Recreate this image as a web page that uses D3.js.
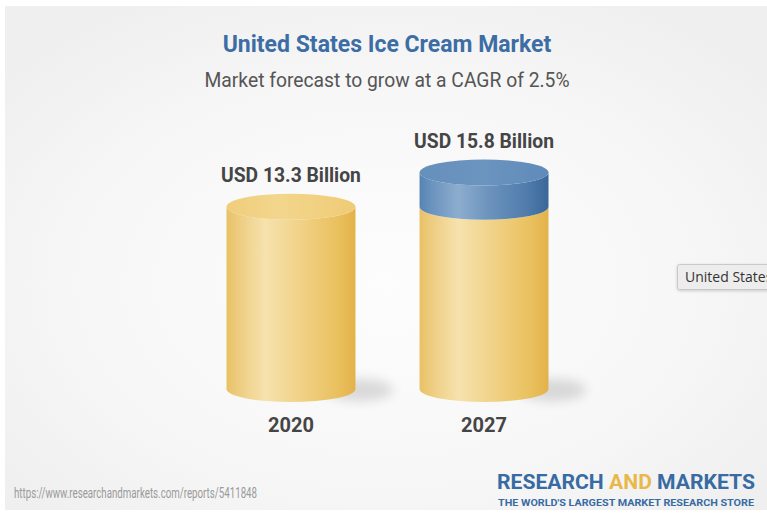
<!DOCTYPE html>
<html>
<head>
<meta charset="utf-8">
<script src="https://cdn.jsdelivr.net/npm/d3@7"></script>
<style>
  html, body { margin: 0; padding: 0; background: #fff; }
  svg { display: block; }
</style>
</head>
<body>
<svg id="chart" width="767" height="513"></svg>
<script>
// Market size by year, USD billion
const categories = ["2020", "2027"];
const values = [13.3, 15.8];
const valueLabels = ["USD 13.3 Billion", "USD 15.8 Billion"];

const titleText = "United States Ice Cream Market";
const subtitleText = "Market forecast to grow at a CAGR of 2.5%";
const sourceText = "https://www.researchandmarkets.com/reports/5411848";

const W = 767, H = 513;
const svg = d3.select("#chart");
const defs = svg.append("defs");
const FONT = "Roboto, 'Noto Sans', sans-serif";

// Panel background: light grey fading to near white in the middle
const bg = defs.append("radialGradient").attr("id", "bgGrad")
  .attr("cx", "50%").attr("cy", "55%").attr("r", "65%");
bg.append("stop").attr("offset", "0%").attr("stop-color", "#fdfdfd");
bg.append("stop").attr("offset", "60%").attr("stop-color", "#f7f7f7");
bg.append("stop").attr("offset", "100%").attr("stop-color", "#efefef");

svg.append("rect").attr("x", 5).attr("y", 6).attr("width", W - 5).attr("height", H - 9)
  .attr("fill", "url(#bgGrad)");

// Cylinder shading
function sideGradient(id, stops) {
  const g = defs.append("linearGradient").attr("id", id)
    .attr("x1", "0%").attr("x2", "100%").attr("y1", "0%").attr("y2", "0%");
  stops.forEach(([o, c]) => g.append("stop").attr("offset", o).attr("stop-color", c));
}
sideGradient("goldSide", [["0%", "#e8c165"], ["8%", "#edcb7d"], ["30%", "#f6e2ae"], ["55%", "#f1d38a"], ["85%", "#eac160"], ["100%", "#e3b24a"]]);
sideGradient("goldTop", [["0%", "#efcd7a"], ["40%", "#f3d68d"], ["100%", "#efcb76"]]);
sideGradient("blueSide", [["0%", "#5783b3"], ["8%", "#6891bd"], ["30%", "#8dadce"], ["55%", "#6a92bc"], ["85%", "#4e7aab"], ["100%", "#3a6698"]]);
sideGradient("blueTop", [["0%", "#6690bc"], ["50%", "#6b94bf"], ["100%", "#5f8aba"]]);

const blur = defs.append("filter").attr("id", "shadowBlur")
  .attr("x", "-50%").attr("y", "-100%").attr("width", "200%").attr("height", "300%");
blur.append("feGaussianBlur").attr("stdDeviation", 6);

const tipShadow = defs.append("filter").attr("id", "tipShadow")
  .attr("x", "-20%").attr("y", "-40%").attr("width", "140%").attr("height", "180%");
tipShadow.append("feDropShadow").attr("dx", 0).attr("dy", 1).attr("stdDeviation", 1.5)
  .attr("flood-color", "#000").attr("flood-opacity", 0.18);

// Scales
const x = d3.scaleBand().domain(categories).range([226.5, 548.5]).paddingInner(0.332).paddingOuter(0);
const y = d3.scaleLinear().domain([0, d3.max(values)]).range([389, 172.5]);
const ry = 13;

// Segments: base value in gold, growth over the first year in blue
const segments = categories.map((c, i) => {
  const segs = [{ from: 0, to: Math.min(values[i], values[0]), kind: "gold" }];
  if (i > 0 && values[i] > values[0]) segs.push({ from: values[0], to: values[i], kind: "blue" });
  return { cat: c, value: values[i], label: valueLabels[i], segs };
});

function sidePath(x0, x1, yTop, yBot) {
  const rx = (x1 - x0) / 2;
  return `M${x0},${yTop} L${x0},${yBot} A${rx},${ry} 0 0 0 ${x1},${yBot} L${x1},${yTop} A${rx},${ry} 0 0 1 ${x0},${yTop} Z`;
}

const g = svg.append("g");
segments.forEach(d => {
  const x0 = x(d.cat), bw = x.bandwidth(), x1 = x0 + bw, cx = x0 + bw / 2;
  const grp = g.append("g");
  // ground shadow
  grp.append("ellipse").attr("cx", x1 + 4).attr("cy", y(0) + 1).attr("rx", 34).attr("ry", 11)
    .attr("fill", "#000").attr("opacity", 0.13).attr("filter", "url(#shadowBlur)");
  d.segs.forEach(s => {
    grp.append("path").attr("d", sidePath(x0, x1, y(s.to), y(s.from)))
      .attr("fill", `url(#${s.kind}Side)`);
  });
  const top = d.segs[d.segs.length - 1];
  grp.append("ellipse").attr("cx", cx).attr("cy", y(top.to)).attr("rx", bw / 2).attr("ry", ry)
    .attr("fill", `url(#${top.kind}Top)`);
  // value label
  grp.append("text").attr("x", cx).attr("y", y(d.value) - ry - 12)
    .attr("text-anchor", "middle").attr("font-family", FONT).attr("font-weight", 700)
    .attr("font-size", 19.3).attr("fill", "#454545").text(d.label);
  // category label
  grp.append("text").attr("x", cx).attr("y", 432)
    .attr("text-anchor", "middle").attr("font-family", FONT).attr("font-weight", 700)
    .attr("font-size", 20).attr("fill", "#454545").text(d.cat);
});

// Titles
svg.append("text").attr("x", 387).attr("y", 52).attr("text-anchor", "middle")
  .attr("font-family", FONT).attr("font-weight", 700).attr("font-size", 23)
  .attr("fill", "#3d6da5").text(titleText);
svg.append("text").attr("x", 387).attr("y", 87).attr("text-anchor", "middle")
  .attr("font-family", FONT).attr("font-size", 19.3)
  .attr("fill", "#555").text(subtitleText);

// Source line
svg.append("text").attr("x", 14).attr("y", 498)
  .attr("font-family", FONT).attr("font-size", 15).attr("fill", "#9a9a9a")
  .attr("textLength", 243).attr("lengthAdjust", "spacingAndGlyphs").text(sourceText);

// Publisher mark
const logo = svg.append("text").attr("x", 497).attr("y", 489)
  .attr("font-family", FONT).attr("font-weight", 700).attr("font-size", 20)
  .attr("textLength", 258).attr("lengthAdjust", "spacingAndGlyphs").attr("fill", "#386ba3");
logo.append("tspan").text("RESEARCH ");
logo.append("tspan").attr("fill", "#e9b84b").text("AND");
logo.append("tspan").text(" MARKETS");
svg.append("text").attr("x", 498).attr("y", 506)
  .attr("font-family", FONT).attr("font-weight", 700).attr("font-size", 9.5)
  .attr("textLength", 256).attr("lengthAdjust", "spacingAndGlyphs").attr("fill", "#386ba3")
  .text("THE WORLD'S LARGEST MARKET RESEARCH STORE");

// Hover tooltip, cut off at the window edge
const tip = svg.append("g");
tip.append("rect").attr("x", 677.5).attr("y", 264.5).attr("width", 100).attr("height", 25)
  .attr("rx", 2).attr("fill", "#ededed").attr("stroke", "#c9c9c9").attr("filter", "url(#tipShadow)");
tip.append("text").attr("x", 685).attr("y", 282)
  .attr("font-family", "'Open Sans', 'Noto Sans', sans-serif").attr("font-size", 14)
  .attr("fill", "#333").text("United States");
</script>
</body>
</html>
